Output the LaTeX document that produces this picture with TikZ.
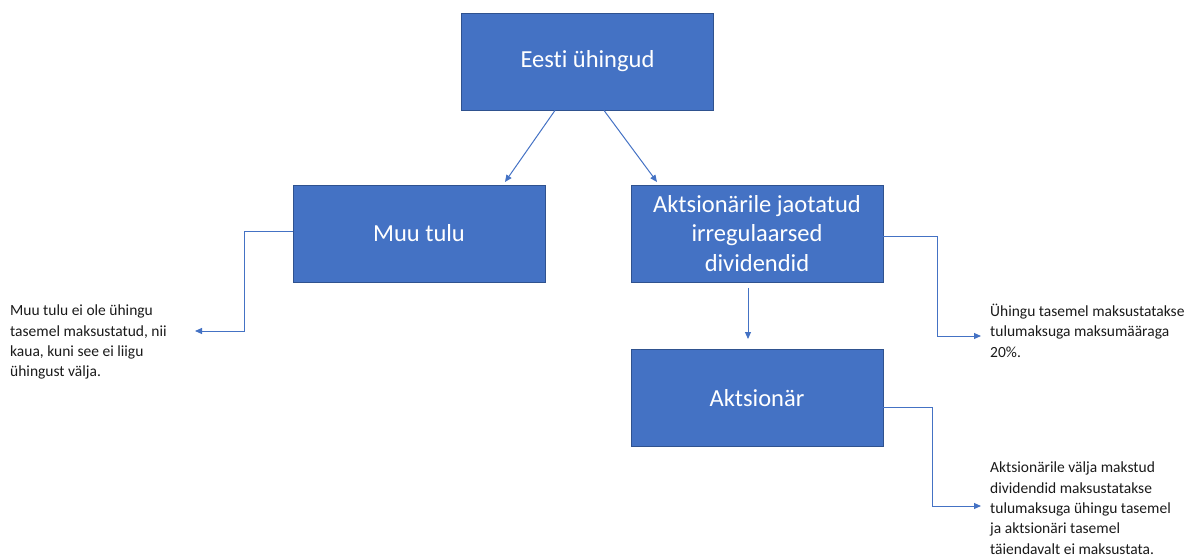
\documentclass[tikz,border=0pt]{standalone}
\usepackage{fontspec}
\setmainfont[Ligatures=NoCommon]{Carlito}
\usetikzlibrary{arrows.meta}
\definecolor{boxblue}{HTML}{4472C4}
\definecolor{boxedge}{HTML}{2F528F}
\definecolor{notetext}{HTML}{1A1A1A}
\begin{document}
\begin{tikzpicture}[x=1pt,y=-1pt,
  box/.style={draw=boxedge, line width=0.8pt, fill=boxblue, text=white,
    minimum width=252pt, minimum height=97pt, inner sep=0pt, align=center,
    font=\fontsize{24.5}{29.5}\selectfont},
  note/.style={anchor=north west, inner sep=0pt, align=left, text=notetext,
    font=\fontsize{15.5}{20.3}\selectfont},
  link/.style={draw=boxblue, line width=1pt, -{Triangle[length=7pt,width=6pt]}}]
  \useasboundingbox (0,0) rectangle (1200,556);

  % boxes
  \node[box] (eesti) at (587.5,61.5) {Eesti ühingud};
  \node[box] (muu) at (419,233.5) {Muu tulu};
  \node[box] (jaot) at (757,233.5) {Aktsionärile jaotatud\\irregulaarsed\\dividendid};
  \node[box] (akts) at (757,398) {Aktsionär};

  % notes
  \node[note] (n1) at (10,305) {Muu tulu ei ole ühingu\\tasemel maksustatud, nii\\kaua, kuni see ei liigu\\ühingust välja.};
  \node[note] (n2) at (990,304) {Ühingu tasemel maksustatakse\\tulumaksuga maksumääraga\\20\%.};
  \node[note] (n3) at (990,462) {Aktsionärile välja makstud\\dividendid maksustatakse\\tulumaksuga ühingu tasemel\\ja aktsionäri tasemel\\täiendavalt ei maksustata.};

  % connectors
  \coordinate (t1) at (195,331);
  \coordinate (t2) at (981,336);
  \coordinate (t3) at (981,506);
  \draw[link] (eesti.south -| 555,0) -- (505,182);
  \draw[link] (eesti.south -| 604,0) -- (657,182);
  \draw[link] (748,288) -- (748,339);
  \draw[link] (muu.west |- 0,232) -- (244,232) |- (t1);
  \draw[link] (jaot.east |- 0,237) -- (937,237) |- (t2);
  \draw[link] (akts.east |- 0,407) -- (932,407) |- (t3);
\end{tikzpicture}
\end{document}
